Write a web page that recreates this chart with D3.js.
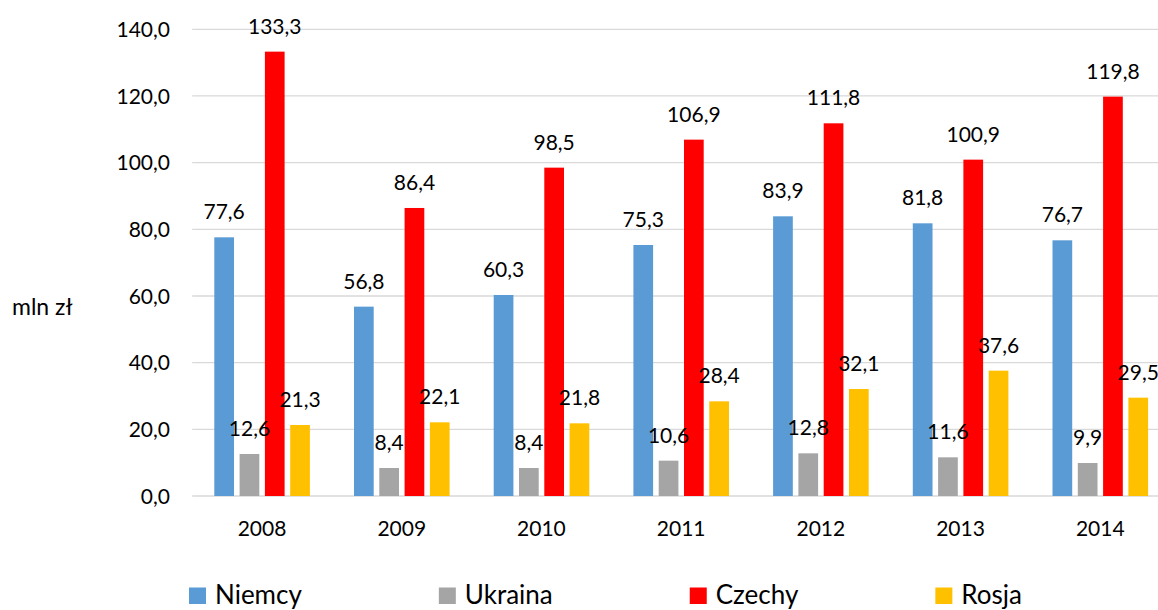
<!DOCTYPE html>
<html>
<head>
<meta charset="utf-8">
<script src="https://cdn.jsdelivr.net/npm/d3@7"></script>
<style>
  html, body { margin: 0; padding: 0; background: #fff; overflow: hidden; }
  svg { display: block; font-family: "Lato", "Open Sans", sans-serif; }
</style>
</head>
<body>
<svg id="chart" width="1158" height="610"></svg>
<script>
const years = ["2008", "2009", "2010", "2011", "2012", "2013", "2014"];
const seriesNames = ["Niemcy", "Ukraina", "Czechy", "Rosja"];
const niemcy  = [77.6, 56.8, 60.3, 75.3, 83.9, 81.8, 76.7];
const ukraina = [12.6, 8.4, 8.4, 10.6, 12.8, 11.6, 9.9];
const czechy  = [133.3, 86.4, 98.5, 106.9, 111.8, 100.9, 119.8];
const rosja   = [21.3, 22.1, 21.8, 28.4, 32.1, 37.6, 29.5];
const yTicks  = [0, 20, 40, 60, 80, 100, 120, 140];
const colors  = ["#5B9BD5", "#A5A5A5", "#FF0000", "#FFC000"];
const yTitle  = "mln zł";

const seriesValues = [niemcy, ukraina, czechy, rosja];

const svg = d3.select("#chart");
const plotLeft = 192.2, step = 139.7;
const plotRight = plotLeft + step * years.length;
const yBottom = 496, yTop = 29.3;

const x0 = d3.scaleBand().domain(years).range([plotLeft, plotRight]).padding(0);
const x1 = d3.scaleBand().domain(seriesNames).range([22.1, 117.7]).paddingInner(0.221).paddingOuter(0);
const y = d3.scaleLinear().domain([0, 140]).range([yBottom, yTop]);
const color = d3.scaleOrdinal().domain(seriesNames).range(colors);

const loc = d3.formatLocale({decimal: ",", thousands: " ", grouping: [3], currency: ["", " zł"]});
const fmt = loc.format(".1f");

// gridlines
svg.append("g").selectAll("line").data(yTicks).join("line")
  .attr("x1", plotLeft).attr("x2", plotRight)
  .attr("y1", d => y(d)).attr("y2", d => y(d))
  .attr("stroke", "#D9D9D9").attr("stroke-width", 1.3);

// y tick labels
svg.append("g").selectAll("text").data(yTicks).join("text")
  .attr("x", 170).attr("y", d => y(d)).attr("dy", "0.36em")
  .attr("text-anchor", "end").attr("font-size", 21).attr("fill", "#000")
  .text(d => fmt(d));

// y title
svg.append("text").attr("x", 12).attr("y", 315)
  .attr("font-size", 23).attr("fill", "#000").text(yTitle);

// bars
const data = years.map((yr, i) => ({year: yr, vals: seriesNames.map((s, j) => ({name: s, value: seriesValues[j][i]}))}));
const groups = svg.append("g").selectAll("g").data(data).join("g")
  .attr("transform", d => `translate(${x0(d.year)},0)`);
groups.selectAll("rect").data(d => d.vals).join("rect")
  .attr("x", d => x1(d.name)).attr("width", x1.bandwidth())
  .attr("y", d => y(d.value)).attr("height", d => y(0) - y(d.value))
  .attr("fill", d => color(d.name));
groups.selectAll("text").data(d => d.vals).join("text")
  .attr("x", d => x1(d.name) + x1.bandwidth() / 2)
  .attr("y", d => y(d.value) - 18)
  .attr("text-anchor", "middle").attr("font-size", 21).attr("fill", "#000")
  .text(d => fmt(d.value));

// x labels
svg.append("g").selectAll("text").data(years).join("text")
  .attr("x", d => x0(d) + x0.bandwidth() / 2).attr("y", 536)
  .attr("text-anchor", "middle").attr("font-size", 21).attr("fill", "#000")
  .text(d => d);

// legend
const legend = svg.append("g");
let lx = 189;
seriesNames.forEach((s, i) => {
  legend.append("rect").attr("x", lx).attr("y", 587.5).attr("width", 17).attr("height", 16.5).attr("fill", colors[i]);
  const t = legend.append("text").attr("x", lx + 26).attr("y", 603.5)
    .attr("font-size", 26).attr("fill", "#000").text(s);
  const w = t.node().getComputedTextLength();
  lx = lx + 26 + w + 137;
});
</script>
</body>
</html>
